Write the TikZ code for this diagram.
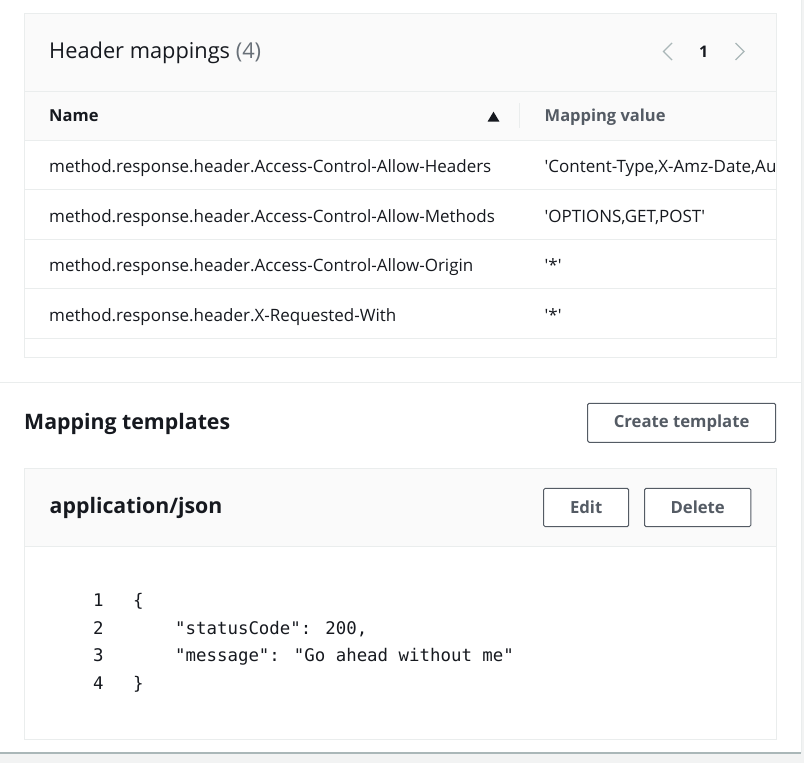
\documentclass[tikz,border=0pt]{standalone}
\usepackage{fontspec}
\setmainfont{Open Sans}[Ligatures=TeXOff]
\newfontfamily\codefont{DejaVu Sans Mono}[Ligatures=TeXOff]
\definecolor{txt}{HTML}{16191F}
\definecolor{subtle}{HTML}{687078}
\definecolor{btntxt}{HTML}{545B64}
\definecolor{line}{HTML}{EAEDED}
\definecolor{hdrbg}{HTML}{FAFAFA}
\definecolor{pagebg}{HTML}{F2F3F3}
\definecolor{shadow}{HTML}{AAB7B8}
\definecolor{chev}{HTML}{AAB7B8}
\begin{document}
\begin{tikzpicture}[x=1pt,y=-1pt,
  lbl/.style={inner sep=0pt, anchor=base west, text=txt, font=\fontsize{17}{20}\selectfont},
  title/.style={lbl, font=\fontsize{21.8}{26}\selectfont},
  boldtitle/.style={lbl, font=\fontsize{21.3}{25}\selectfont\bfseries},
  colhead/.style={lbl, font=\fontsize{16.5}{20}\selectfont\bfseries},
  code/.style={lbl, font=\fontsize{17.4}{21}\selectfont\codefont},
  btn/.style={draw=btntxt, line width=1pt, rounded corners=1.5pt, fill=white, text=btntxt,
    font=\fontsize{16.7}{20}\selectfont\bfseries, inner sep=0pt},
  sep/.style={draw=line, line width=1pt}]
\useasboundingbox (0,0) rectangle (804,763);
% page background
\fill[white] (0,0) rectangle (804,763);
\fill[pagebg] (801,0) rectangle (804,763);
\fill[pagebg] (0,753) rectangle (804,763);
\draw[shadow, line width=1.5pt] (0,753) -- (801,753);
\draw[line, line width=0.8pt] (801,0) -- (801,753);
\draw[sep] (0,382) -- (801,382);

% ---------- Panel 1 ----------
\fill[shadow!70] (24,14) rectangle (776.8,358.2);
\fill[white] (24,13) rectangle (776,357);
\fill[hdrbg] (24,13) rectangle (776,140);
\draw[line, line width=1pt] (24,13) rectangle (776,357);
\draw[sep] (24,91.7) -- (776,91.7);
\draw[sep] (24,140) -- (776,140);
\draw[sep] (519,103) -- (519,128);
\foreach \yy in {189.5,239,288.5,338} \draw[sep] (24,\yy) -- (776,\yy);

\node[title] (hm) at (49,58.3) {Header mappings \textcolor{subtle}{(4)}};
\draw[chev, line width=1.4pt] (672,43) -- (663.5,51.5) -- (672,60);
\node[lbl, font=\fontsize{16}{19}\selectfont\bfseries] (pg) at (699,57.3) {1};
\draw[chev, line width=1.4pt] (735.5,43) -- (744,51.5) -- (735.5,60);

\node[colhead] (name) at (49,121.7) {Name};
\fill[txt] (487.5,121.7) -- (499.5,121.7) -- (493.5,111.7) -- cycle;
\node[colhead, text=btntxt] (mv) at (544.5,121.7) {Mapping value};

\node[lbl] (r1) at (49,172.7) {method.response.header.Access-Control-Allow-Headers};
\node[lbl] (r2) at (49,222.2) {method.response.header.Access-Control-Allow-Methods};
\node[lbl] (r3) at (49,271.7) {method.response.header.Access-Control-Allow-Origin};
\node[lbl] (r4) at (49,321.2) {method.response.header.X-Requested-With};
\begin{scope}
\clip (24,13) rectangle (775.5,357);
\node[lbl] (v1) at (544.5,172.7) {'Content-Type,X-Amz-Date,Au};
\end{scope}
\node[lbl] (v2) at (544.5,222.2) {'OPTIONS,GET,POST'};
\node[lbl] (v3) at (544.5,271.7) {'*'};
\node[lbl] (v4) at (544.5,321.2) {'*'};

% ---------- Mapping templates ----------
\node[boldtitle] (mt) at (24,429.3) {Mapping templates};
\node[btn, minimum width=188, minimum height=39] (create) at (681.6,422.8) {Create template};

% ---------- Panel 2 ----------
\fill[shadow!70] (24,469.3) rectangle (776.8,740.2);
\fill[white] (24,468.3) rectangle (776,739);
\fill[hdrbg] (24,468.3) rectangle (776,546.7);
\draw[line, line width=1pt] (24,468.3) rectangle (776,739);
\draw[sep] (24,546.7) -- (776,546.7);

\node[boldtitle] (aj) at (49.5,513.3) {application/json};
\node[btn, minimum width=85, minimum height=38.4] (edit) at (586.2,507.5) {Edit};
\node[btn, minimum width=106.2, minimum height=38.4] (del) at (697.7,507.5) {Delete};

\node[code] (n1) at (93,606.7) {1};
\node[code] (n2) at (93,634) {2};
\node[code] (n3) at (93,661.5) {3};
\node[code] (n4) at (93,689) {4};
\node[code] (c1) at (133,606.7) {\{};
\node[code] (c2) at (175,634) {"statusCode": 200,};
\node[code] (c3) at (175,661.5) {"message": "Go ahead without me"};
\node[code] (c4) at (133,689) {\}};
\end{tikzpicture}
\end{document}
